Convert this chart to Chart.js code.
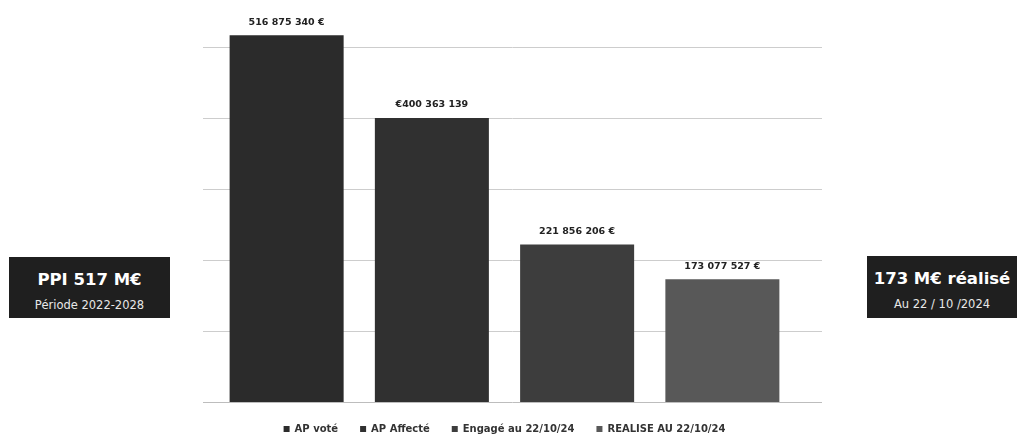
<!DOCTYPE html>
<html>
<head>
<meta charset="utf-8">
<script src="https://cdn.jsdelivr.net/npm/chart.js@4/dist/chart.umd.min.js"></script>
<style>
  html, body { margin: 0; padding: 0; background: #ffffff; overflow: hidden; }
  #wrap { position: relative; width: 1017px; height: 434px; overflow: hidden; }
  #c { position: absolute; left: 0; top: 0; }
  .box { position: absolute; background: #1f1f1f; color: #ffffff; text-align: center;
         font-family: "DejaVu Sans", sans-serif; box-sizing: border-box; }
  .box .l1 { font-weight: bold; font-size: 16.5px; line-height: 20px; margin-top: 13px; }
  .box .l2 { font-size: 11.5px; line-height: 16px; margin-top: 7px; color: #e8e8e8; }
</style>
</head>
<body>
<div id="wrap">
  <canvas id="c" width="1017" height="444"></canvas>
  <div class="box" style="left:9px; top:257px; width:161px; height:61px;">
    <div class="l1">PPI 517 M€</div>
    <div class="l2">Période 2022-2028</div>
  </div>
  <div class="box" style="left:867px; top:256px; width:150px; height:62px;">
    <div class="l1">173 M€ réalisé</div>
    <div class="l2">Au 22 / 10 /2024</div>
  </div>
</div>
<script>
// ---- data ----
const categories = ["PPI"];
const seriesNames = ["AP voté", "AP Affecté", "Engagé au 22/10/24", "REALISE AU 22/10/24"];
const seriesValues = [516875340, 400363139, 221856206, 173077527];
const valueLabels = ["516 875 340 €", "€400 363 139", "221 856 206 €", "173 077 527 €"];
const gridValues = [0, 100000000, 200000000, 300000000, 400000000, 500000000];
const seriesColors = ["#2b2b2b", "#303030", "#3d3d3d", "#585858"];

const datasets = seriesNames.map((name, i) => ({
  label: name,
  data: [seriesValues[i]],
  backgroundColor: seriesColors[i],
  borderWidth: 0,
  barPercentage: 0.785,
  categoryPercentage: 1.0
}));

const gridPlugin = {
  id: 'extGrid',
  beforeDatasetsDraw(chart) {
    const ctx = chart.ctx, ys = chart.scales.y, ca = chart.chartArea;
    ctx.save();
    ctx.lineWidth = 1;
    gridValues.forEach(v => {
      const y = Math.round(ys.getPixelForValue(v)) + 0.5;
      ctx.strokeStyle = v === 0 ? '#bdbdbd' : '#cdcdcd';
      ctx.beginPath();
      ctx.moveTo(ca.left - 11, y);
      ctx.lineTo(ca.right + 27, y);
      ctx.stroke();
    });
    ctx.restore();
  }
};

const labelPlugin = {
  id: 'valLabels',
  afterDatasetsDraw(chart) {
    const ctx = chart.ctx;
    ctx.save();
    ctx.font = 'bold 9.5px "DejaVu Sans"';
    ctx.fillStyle = '#222222';
    ctx.textAlign = 'center';
    ctx.textBaseline = 'middle';
    chart.data.datasets.forEach((ds, i) => {
      const el = chart.getDatasetMeta(i).data[0];
      ctx.fillText(valueLabels[i], el.x, el.y - 13);
    });
    ctx.restore();
  }
};

new Chart(document.getElementById('c'), {
  type: 'bar',
  data: { labels: categories, datasets },
  options: {
    responsive: false,
    animation: false,
    layout: { padding: { left: 214, right: 222, top: 26, bottom: 0 } },
    scales: {
      x: { display: false },
      y: { display: false, min: 0, max: 530000000 }
    },
    plugins: {
      legend: {
        position: 'bottom',
        labels: {
          boxWidth: 6,
          boxHeight: 6,
          padding: 22,
          color: '#333333',
          font: { family: '"DejaVu Sans"', size: 10, weight: 'bold' }
        }
      },
      tooltip: { enabled: false }
    }
  },
  plugins: [gridPlugin, labelPlugin]
});
</script>
</body>
</html>
